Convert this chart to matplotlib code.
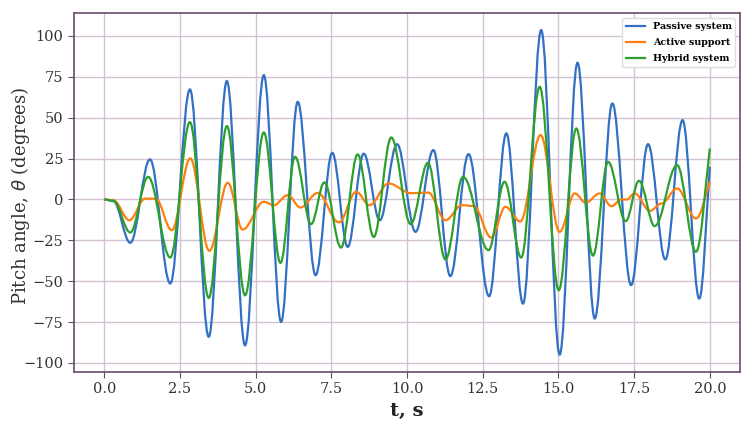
import numpy as np
import matplotlib
matplotlib.use("Agg")
import matplotlib.pyplot as plt
from matplotlib.path import Path
from matplotlib.patches import PathPatch
from matplotlib.lines import Line2D

plt.rcParams['font.family'] = ['DejaVu Serif']

# turning points (time s, angle deg)
passive_t = [0.0, 0.3, 0.86, 1.51, 2.18, 2.83, 3.45, 4.05, 4.65, 5.27, 5.84, 6.39,
             6.98, 7.53, 8.04, 8.57, 9.10, 9.67, 10.28, 10.87, 11.43, 12.03, 12.71,
             13.28, 13.83, 14.43, 15.04, 15.63, 16.20, 16.78, 17.40, 17.96, 18.53,
             19.10, 19.65, 20.0]
passive_v = [0.0, -1.0, -26.5, 24.5, -51.4, 67.3, -84.0, 72.4, -89.2, 76.0, -74.9, 59.7,
             -46.3, 28.5, -29.0, 28.0, -12.7, 33.8, -19.8, 30.2, -46.9, 27.7, -59.2,
             40.4, -63.7, 103.6, -94.9, 83.6, -72.8, 58.7, -52.4, 33.8, -36.7,
             48.5, -60.6, 20.0]

active_t = [0.0, 0.3, 0.83, 1.35, 1.70, 2.23, 2.84, 3.47, 4.08, 4.57, 5.27, 5.60, 6.06,
            6.48, 7.05, 7.75, 8.32, 8.76, 9.39, 10.13, 10.70, 11.27, 11.81, 12.20,
            12.78, 13.25, 13.74, 14.41, 15.04, 15.54, 15.90, 16.36, 16.75, 17.08,
            17.25, 17.52, 18.02, 18.40, 18.92, 19.54, 20.0]
active_v = [0.0, -0.5, -12.7, 0.5, 0.5, -18.8, 25.1, -31.4, 10.2, -18.4, -1.4, -3.5, 2.6,
            -4.9, 4.0, -14.0, 4.7, -3.5, 9.8, 3.8, 4.2, -12.7, -3.5, -4.0,
            -23.3, -4.5, -13.5, 39.4, -19.8, 3.7, -2.0, 3.7, -4.1, 0.0,
            0.0, 3.7, -7.0, -2.5, 6.7, -11.6, 10.8]

hybrid_t = [0.0, 0.3, 0.86, 1.45, 2.18, 2.83, 3.45, 4.05, 4.65, 5.27, 5.82, 6.30, 6.83,
            7.27, 7.82, 8.37, 8.90, 9.48, 10.12, 10.69, 11.27, 11.85, 12.69, 13.22,
            13.77, 14.38, 15.01, 15.59, 16.14, 16.64, 17.22, 17.66, 18.18, 18.92,
            19.54, 20.0]
hybrid_v = [0.0, -0.8, -20.2, 13.8, -35.5, 47.3, -60.2, 44.9, -58.6, 41.0, -38.8, 26.1,
            -15.1, 10.4, -29.4, 27.5, -22.9, 37.9, -15.1, 22.4, -36.7, 13.8, -31.0,
            10.8, -35.5, 68.9, -55.5, 43.4, -34.3, 23.0, -13.3, 11.4, -16.3, 21.0,
            -32.0, 31.2]

labels = ["Passive system", "Active support", "Hybrid system"]
colors = ["#3270c4", "#ff7f0e", "#2ca02c"]


def smooth_path(t, v):
    # cubic segments with flat tangents at each turning point
    verts = [(t[0], v[0])]
    codes = [Path.MOVETO]
    k = 0.364
    for i in range(len(t) - 1):
        t0, v0, t1, v1 = t[i], v[i], t[i + 1], v[i + 1]
        dt = t1 - t0
        c1 = (t0 + k * dt, v0)
        if i == len(t) - 2:
            c2 = (t1 - k * dt, v1 - (v1 - v0) * 0.4)
        else:
            c2 = (t1 - k * dt, v1)
        verts += [c1, c2, (t1, v1)]
        codes += [Path.CURVE4] * 3
    return Path(verts, codes)


fig = plt.figure(figsize=(7.51, 4.32), dpi=100)
ax = fig.add_axes([0.0985, 0.139, 0.887, 0.830])

for t, v, c in zip([passive_t, active_t, hybrid_t],
                   [passive_v, active_v, hybrid_v], colors):
    ax.add_patch(PathPatch(smooth_path(t, v), fill=False, edgecolor=c, lw=1.6,
                           zorder=3))

ax.set_xlim(-1.0, 21.0)
ax.set_ylim(-105.5, 113.8)
ax.set_xticks(np.arange(0, 20.1, 2.5))
ax.set_yticks(np.arange(-100, 101, 25))
ax.grid(True, color="#d2c2d2", lw=1.0)
ax.set_axisbelow(True)
for s in ax.spines.values():
    s.set_color("#6a4a6a")
    s.set_linewidth(1.2)
ax.tick_params(colors="#6a4a6a", labelcolor="#333333", labelsize=10.5, length=4)

ax.set_ylabel("Pitch angle, $\\theta$ (degrees)", fontsize=13, color="#333333")
ax.yaxis.set_label_coords(-0.063, 0.49)
ax.set_xlabel("t, s", fontsize=14, fontweight="bold", color="#222222")

handles = [Line2D([], [], color=c, lw=1.6) for c in colors]
leg = ax.legend(handles, labels, loc="upper right", prop={"weight": "bold", "size": 6.8},
                framealpha=1.0, edgecolor="#dddddd", handlelength=2.0,
                labelspacing=0.75)

fig.savefig("out.png", dpi=100)
